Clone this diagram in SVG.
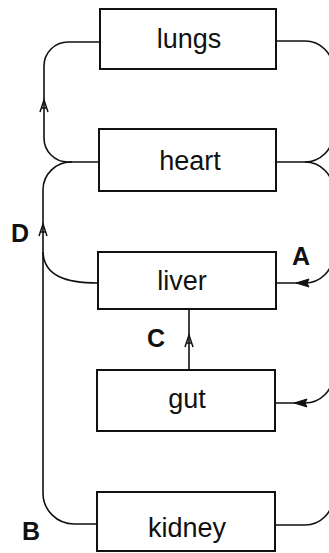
<svg xmlns="http://www.w3.org/2000/svg" width="329" height="553" viewBox="0 0 329 553">
<style>
.box{fill:#fff;stroke:#111;stroke-width:2}
.lbl{font-family:"Liberation Sans",Arial,sans-serif;font-size:27px;fill:#111;text-anchor:middle}
.let{font-family:"Liberation Sans",Arial,sans-serif;font-size:25px;font-weight:bold;fill:#111}
.con{fill:none;stroke:#111;stroke-width:1.6}
.chev{fill:none;stroke:#111;stroke-width:1.5}
.tri{fill:#111;stroke:#111;stroke-width:1}
</style>
<defs>
<path id="chevUp" class="chev" d="M-4,6 L0,-6 L4,6 M-2.6,2 H2.6"/>
<path id="triLeft" class="tri" d="M0,0 L13,-4 L11,0 L13,4 Z"/>
</defs>
<rect width="329" height="553" fill="#fff"/>
<g id="connectors">
<path class="con" d="M100,42 H68 A24,24 0 0 0 44,66 V138 A24,24 0 0 0 68,162 H99"/>
<path class="con" d="M72,162 A28,28 0 0 0 43,190 V493 A31,31 0 0 0 74,524 H97"/>
<path class="con" d="M43,252 C44,276 66,283 98,283"/>
<path class="con" d="M189,370 V309"/>
<path class="con" d="M276,41 H305 A28,28 0 0 1 333,69 V134 A28,28 0 0 1 305,162 H276"/>
<path class="con" d="M305,162 A28,28 0 0 1 333,190 V497 A28,28 0 0 1 305,525 H275"/>
<path class="con" d="M333,255 A28,28 0 0 1 305,283 H276"/>
<path class="con" d="M333,375 A28,28 0 0 1 305,403 H275"/>
<use href="#chevUp" x="44" y="106"/>
<use href="#chevUp" x="43" y="230"/>
<use href="#chevUp" x="189" y="341"/>
<use href="#triLeft" x="296" y="283"/>
<use href="#triLeft" x="294" y="403"/>
</g>
<g id="lungs"><rect class="box" x="100" y="9" width="176" height="60"/><text class="lbl" x="189" y="48">lungs</text></g>
<g id="heart"><rect class="box" x="99" y="129" width="177" height="62"/><text class="lbl" x="190" y="170">heart</text></g>
<g id="liver"><rect class="box" x="98" y="252" width="178" height="57"/><text class="lbl" x="182" y="290">liver</text></g>
<g id="gut"><rect class="box" x="97" y="370" width="178" height="61"/><text class="lbl" x="187" y="408">gut</text></g>
<g id="kidney"><rect class="box" x="97" y="492" width="178" height="59"/><text class="lbl" x="187" y="537">kidney</text></g>
<g id="labels">
<text class="let" x="11" y="242">D</text>
<text class="let" x="292" y="265">A</text>
<text class="let" x="147" y="347">C</text>
<text class="let" x="22" y="540">B</text>
</g>
</svg>
